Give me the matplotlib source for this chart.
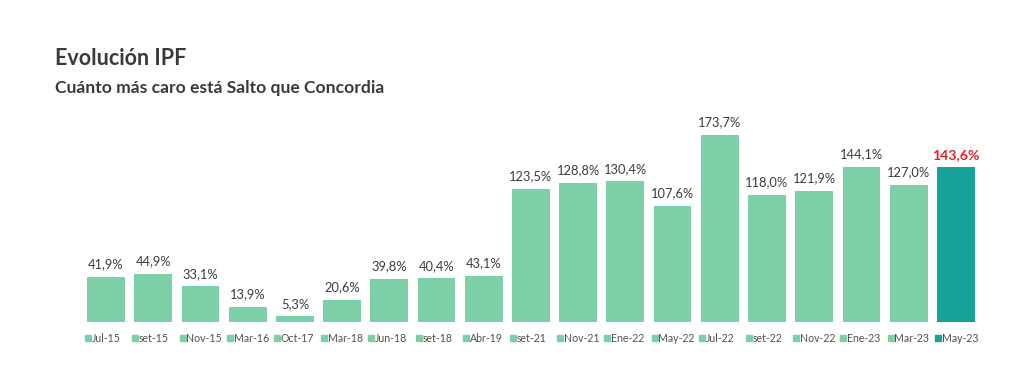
import matplotlib
matplotlib.use("Agg")
import matplotlib.pyplot as plt

categories = ["Jul-15", "set-15", "Nov-15", "Mar-16", "Oct-17", "Mar-18", "Jun-18", "set-18",
              "Abr-19", "set-21", "Nov-21", "Ene-22", "May-22", "Jul-22", "set-22", "Nov-22",
              "Ene-23", "Mar-23", "May-23"]
values = [41.9, 44.9, 33.1, 13.9, 5.3, 20.6, 39.8, 40.4, 43.1, 123.5, 128.8, 130.4, 107.6,
          173.7, 118.0, 121.9, 144.1, 127.0, 143.6]
labels = ["41,9%", "44,9%", "33,1%", "13,9%", "5,3%", "20,6%", "39,8%", "40,4%", "43,1%",
          "123,5%", "128,8%", "130,4%", "107,6%", "173,7%", "118,0%", "121,9%", "144,1%",
          "127,0%", "143,6%"]

plt.rcParams['font.family'] = ['Lato', 'DejaVu Sans']
light = "#7ccfa6"
teal = "#17a39b"
colors = [light] * (len(values) - 1) + [teal]

fig = plt.figure(figsize=(10.24, 3.87), dpi=100)
ax = fig.add_axes([0.0805, 0.168, 0.876, 0.574])
x = list(range(len(values)))
ax.bar(x, values, width=0.8, color=colors)
ax.set_xlim(-0.5, len(values) - 0.5)
ax.set_ylim(0, 206)
ax.axis("off")

for i, (v, lab) in enumerate(zip(values, labels)):
    last = i == len(values) - 1
    ax.text(i, v + 6, lab, ha="center", va="bottom",
            fontsize=10.2 if last else 9.3,
            fontweight="bold" if last else "normal",
            color="#e02424" if last else "#3c3c3c")
    # legend-like labels under bars
    ax.plot([i - 0.38], [-15], marker="s", markersize=4.8, color=colors[i],
            clip_on=False, linestyle="none")
    ax.text(i - 0.3, -15, categories[i], ha="left", va="center", fontsize=7.6,
            color="#505050", clip_on=False)

fig.text(0.054, 0.85, "Evolución IPF", fontsize=15.5, fontweight="bold", color="#3a3a3a",
         va="center")
fig.text(0.054, 0.772, "Cuánto más caro está Salto que Concordia", fontsize=12.6,
         fontweight="bold", color="#3a3a3a", va="center")

fig.savefig("out.png", dpi=100, facecolor="white")
